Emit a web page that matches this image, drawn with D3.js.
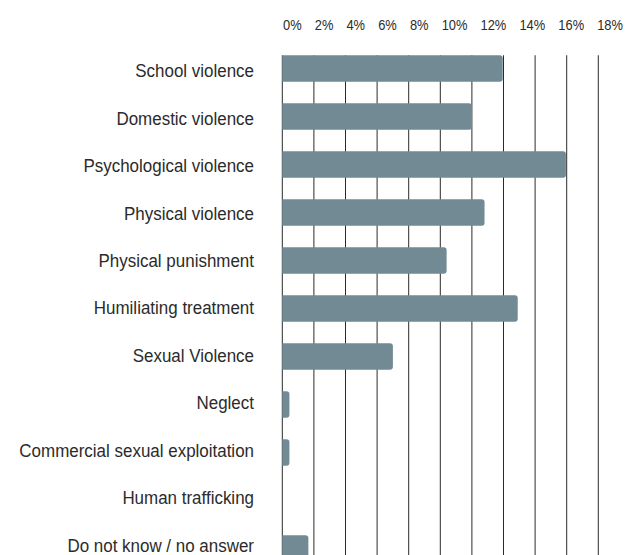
<!DOCTYPE html>
<html>
<head>
<meta charset="utf-8">
<script src="https://cdn.jsdelivr.net/npm/d3@7"></script>
<style>
  body { margin: 0; background: #fff; }
  text { font-family: "Liberation Sans", Arial, sans-serif; fill: #2b2b2b; }
</style>
</head>
<body>
<div id="chart"></div>
<script>
// categories and values (% of respondents)
const categories = [
  "School violence",
  "Domestic violence",
  "Psychological violence",
  "Physical violence",
  "Physical punishment",
  "Humiliating treatment",
  "Sexual Violence",
  "Neglect",
  "Commercial sexual exploitation",
  "Human trafficking",
  "Do not know / no answer"
];
const values = [13.95, 12.0, 17.95, 12.8, 10.4, 14.9, 7.0, 0.45, 0.45, 0, 1.65];
const tickLabels = ["0%", "2%", "4%", "6%", "8%", "10%", "12%", "14%", "16%", "18%"];
const gridValues = [0, 2, 4, 6, 8, 10, 12, 14, 16, 18, 20];

const width = 626, height = 555;

const svg = d3.select("#chart").append("svg")
  .attr("width", width)
  .attr("height", height);

// scales
const x = d3.scaleLinear()
  .domain([0, 20])
  .range([282.3, 598.3]);

const y = d3.scaleBand()
  .domain(categories)
  .range([44.5, 572.5])
  .paddingInner(0.448)
  .paddingOuter(0.224);

// labels sit on a slightly tighter step than the bars
const yLabel = d3.scalePoint()
  .domain(categories)
  .range([77.3, 551.6]);

// gridlines
svg.append("g")
  .selectAll("line")
  .data(gridValues)
  .join("line")
  .attr("x1", d => x(d))
  .attr("x2", d => x(d))
  .attr("y1", y.range()[0] + y.step() * y.paddingOuter())
  .attr("y2", height)
  .attr("stroke", "#2a2a2a")
  .attr("stroke-width", 1);

// bars, rounded on the right side only
function barPath(d, i) {
  const x0 = x(0), x1 = x(d), y0 = y(categories[i]), h = y.bandwidth();
  const r = Math.min(3, (x1 - x0) / 2);
  return `M${x0},${y0}H${x1 - r}Q${x1},${y0} ${x1},${y0 + r}` +
         `V${y0 + h - r}Q${x1},${y0 + h} ${x1 - r},${y0 + h}H${x0}Z`;
}

svg.append("g")
  .selectAll("path")
  .data(values)
  .join("path")
  .attr("d", (d, i) => d > 0 ? barPath(d, i) : null)
  .attr("fill", "#728a93");

// category labels
svg.append("g")
  .selectAll("text")
  .data(categories)
  .join("text")
  .attr("transform", d => `translate(254,${yLabel(d)}) scale(0.97,1)`)
  .attr("text-anchor", "end")
  .style("font-size", "17.5px")
  .text(d => d);

// top tick labels, laid out inline like a line of text
const squeeze = 0.86;
const tickText = svg.append("text")
  .attr("transform", `translate(${x(0) + 0.7},29.8) scale(${squeeze},1)`)
  .style("font-size", "15px");

tickText.selectAll("tspan")
  .data(tickLabels)
  .join("tspan")
  .attr("dx", (d, i) => i === 0 ? 0 : 13.1 / squeeze)
  .text(d => d);
</script>
</body>
</html>
